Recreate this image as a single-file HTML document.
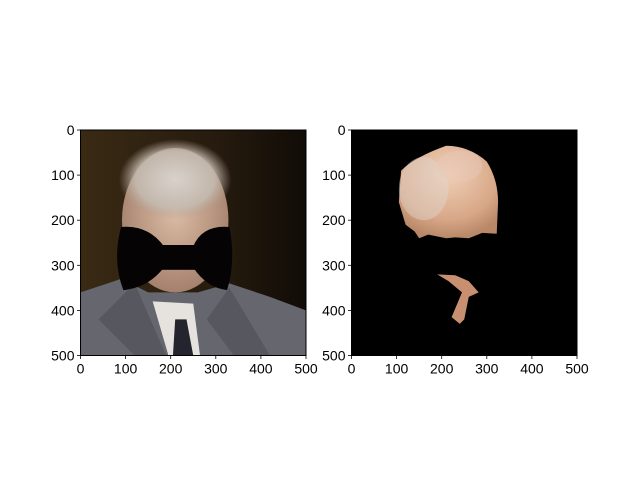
<!DOCTYPE html>
<html><head><meta charset="utf-8"><style>
body{margin:0;background:#fff;}
svg{display:block;font-family:"Liberation Sans","DejaVu Sans",sans-serif;}
</style></head><body>
<svg id="fig" width="640" height="480" viewBox="0 0 640 480" xmlns="http://www.w3.org/2000/svg">
<defs>
<linearGradient id="bg" x1="0" x2="1" y1="0" y2="0"><stop offset="0" stop-color="#3a2a14"/><stop offset="0.6" stop-color="#261b0e"/><stop offset="1" stop-color="#110c07"/></linearGradient>
<radialGradient id="skin" cx="0.5" cy="0.45" r="0.6"><stop offset="0" stop-color="#dcbca4"/><stop offset="1" stop-color="#a07c68"/></radialGradient>
<radialGradient id="hair" cx="0.5" cy="0.5" r="0.5"><stop offset="0" stop-color="#d8d2cc"/><stop offset="0.7" stop-color="#c4bab0" stop-opacity="0.9"/><stop offset="1" stop-color="#b0a090" stop-opacity="0"/></radialGradient>
<radialGradient id="skin2" cx="0.5" cy="0.3" r="0.7"><stop offset="0" stop-color="#f0d0b8"/><stop offset="0.7" stop-color="#d8a888"/><stop offset="1" stop-color="#b88868"/></radialGradient>
<clipPath id="c1"><rect x="0" y="0" width="500" height="500"/></clipPath>
</defs>
<g transform="translate(80.5,130) scale(0.451)">
 <g clip-path="url(#c1)">
  <rect width="500" height="500" fill="url(#bg)"/>
  <path d="M0,360 L90,330 L150,360 L260,360 L330,340 L420,370 L500,400 L500,500 L0,500 Z" fill="#66666e"/>
  <path d="M40,420 L120,340 L190,500 L120,500 Z" fill="#57575f"/>
  <path d="M330,350 L280,420 L340,500 L420,500 Z" fill="#57575f"/>
  <ellipse cx="210" cy="200" rx="118" ry="160" fill="url(#skin)"/>
  <ellipse cx="210" cy="110" rx="125" ry="90" fill="url(#hair)"/>
  <path d="M160,380 L250,385 L265,500 L195,500 Z" fill="#e6e2de"/>
  <path d="M210,420 L235,420 L250,500 L205,500 Z" fill="#24242e"/>
  <path d="M90,215 Q150,210 185,258 L185,305 Q150,350 95,355 Q70,290 90,215 Z" fill="#050303"/>
  <path d="M330,215 Q270,210 250,258 L250,305 Q280,350 325,355 Q345,290 330,215 Z" fill="#050303"/>
  <rect x="175" y="255" width="85" height="55" fill="#050303"/>
 </g>
 <rect width="500" height="500" fill="none" stroke="#000" stroke-width="2.2"/>
</g>
<g transform="translate(351.5,130) scale(0.451)">
 <g clip-path="url(#c1)">
  <rect width="500" height="500" fill="#000"/>
  <path d="M110,90 Q140,60 210,35 Q260,35 300,70 Q325,110 325,160 L322,230 L290,228 L260,240 L230,238 L210,240 L170,232 L150,240 L140,225 L120,210 L105,160 Z" fill="url(#skin2)"/>
  <ellipse cx="160" cy="130" rx="55" ry="70" fill="#e0d8d0" opacity="0.45"/>
  <ellipse cx="240" cy="80" rx="50" ry="35" fill="#e8c8b8" opacity="0.5"/>
  <path d="M190,320 L230,322 L260,335 L282,360 L260,370 L250,420 L240,430 L222,415 L245,360 L215,335 Z" fill="#c89070"/>
 </g>
 <rect width="500" height="500" fill="none" stroke="#000" stroke-width="2.2"/>
</g>
<g id="ticks" stroke="#000" stroke-width="0.8"></g>
<g id="labels" font-size="14" fill="#000"></g>
</svg>
<script>
const tickValues=[0,100,200,300,400,500];
const tickLabels=["0","100","200","300","400","500"];
const axesX0=[80.5,351.5];
const axY0=130, scale=0.451, ns="http://www.w3.org/2000/svg";
const tg=document.getElementById('ticks'), lg=document.getElementById('labels');
axesX0.forEach((x0,ai)=>{
 tickValues.forEach((v,i)=>{
  const px=x0+v*scale, py=axY0+v*scale, by=axY0+500*scale;
  let l=document.createElementNS(ns,'line');
  l.setAttribute('x1',px);l.setAttribute('x2',px);l.setAttribute('y1',by);l.setAttribute('y2',by+3.5);
  
  
  tg.appendChild(l);
  let t=document.createElementNS(ns,'text');
  t.setAttribute('x',px);t.setAttribute('y',by+18);t.setAttribute('text-anchor','middle');
  t.textContent=tickLabels[i];
  
  
  lg.appendChild(t);
  let l2=document.createElementNS(ns,'line');
  l2.setAttribute('x1',x0-3.5);l2.setAttribute('x2',x0);l2.setAttribute('y1',py);l2.setAttribute('y2',py);
  
  
  tg.appendChild(l2);
  let t2=document.createElementNS(ns,'text');
  t2.setAttribute('x',x0-6);t2.setAttribute('y',py+5);t2.setAttribute('text-anchor','end');
  t2.textContent=tickLabels[i];
  
  
  lg.appendChild(t2);
 });
});
</script>
</body></html>
